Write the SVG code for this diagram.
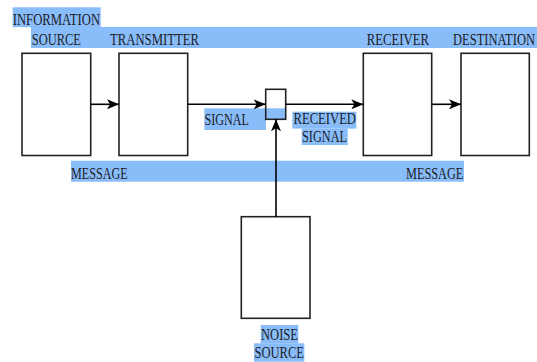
<svg xmlns="http://www.w3.org/2000/svg" width="537" height="362" viewBox="0 0 537 362">
<style>
.hl{fill:#89bdfa}
.box{fill:none;stroke:#222;stroke-width:1.6}
.t{font-family:"Liberation Serif","Times New Roman",serif;font-size:17.5px;fill:#1c1c28}
.c{stroke:#000;stroke-width:1.6;fill:none;marker-end:url(#ah)}
</style>
<defs>
<marker id="ah" viewBox="0 0 12 10" refX="12" refY="5" markerWidth="12" markerHeight="10" markerUnits="userSpaceOnUse" orient="auto">
<path d="M0,0 L12,5 L0,10 L3,5 Z" fill="#000"/>
</marker>
</defs>
<rect width="537" height="362" fill="#fff"/>
<g id="highlights">
<rect class="hl" x="12.7" y="7.3" width="88" height="19.9"/>
<rect class="hl" x="31" y="27" width="506" height="21"/>
<rect class="hl" x="204.3" y="108.3" width="61.7" height="21.7"/>
<rect class="hl" x="266" y="108.3" width="19.7" height="10.9"/>
<rect class="hl" x="292.3" y="111.7" width="64" height="16.9"/>
<rect class="hl" x="301.7" y="128.5" width="46" height="16.5"/>
<rect class="hl" x="71" y="160.7" width="393" height="21"/>
<rect class="hl" x="260.7" y="325" width="37.6" height="18.5"/>
<rect class="hl" x="254" y="343.3" width="50.3" height="18.4"/>
</g>
<g id="info-source">
<rect class="box" x="22" y="53.3" width="68.7" height="102.2"/>
<text class="t" x="12.7" y="25" textLength="87.5" lengthAdjust="spacingAndGlyphs">INFORMATION</text>
<text class="t" x="31.7" y="45" textLength="49.3" lengthAdjust="spacingAndGlyphs">SOURCE</text>
</g>
<g id="transmitter">
<rect class="box" x="119" y="53.3" width="68.7" height="102.2"/>
<text class="t" x="110" y="45" textLength="89" lengthAdjust="spacingAndGlyphs">TRANSMITTER</text>
</g>
<g id="mixer">
<rect class="box" x="265.7" y="89.3" width="20" height="30"/>
</g>
<g id="receiver">
<rect class="box" x="363.3" y="53.3" width="68.4" height="102.2"/>
<text class="t" x="366.7" y="45" textLength="62.3" lengthAdjust="spacingAndGlyphs">RECEIVER</text>
</g>
<g id="destination">
<rect class="box" x="461" y="53.3" width="68.3" height="102.2"/>
<text class="t" x="453" y="45" textLength="82" lengthAdjust="spacingAndGlyphs">DESTINATION</text>
</g>
<g id="noise-source">
<rect class="box" x="241.3" y="216.7" width="68.7" height="101.6"/>
<text class="t" x="261" y="340" textLength="37" lengthAdjust="spacingAndGlyphs">NOISE</text>
<text class="t" x="254.5" y="358" textLength="49.5" lengthAdjust="spacingAndGlyphs">SOURCE</text>
</g>
<g id="labels">
<text class="t" x="204.5" y="125" textLength="44.5" lengthAdjust="spacingAndGlyphs">SIGNAL</text>
<text class="t" x="293.5" y="123.5" textLength="62.5" lengthAdjust="spacingAndGlyphs">RECEIVED</text>
<text class="t" x="302" y="141.5" textLength="45" lengthAdjust="spacingAndGlyphs">SIGNAL</text>
<text class="t" x="71" y="179" textLength="56.7" lengthAdjust="spacingAndGlyphs">MESSAGE</text>
<text class="t" x="406" y="179" textLength="57.3" lengthAdjust="spacingAndGlyphs">MESSAGE</text>
</g>
<g id="connectors">
<line class="c" x1="90.7" y1="104.3" x2="119" y2="104.3"/>
<line class="c" x1="187.7" y1="104.3" x2="265.7" y2="104.3"/>
<line class="c" x1="285.7" y1="104.3" x2="363.3" y2="104.3"/>
<line class="c" x1="431.7" y1="104.3" x2="461" y2="104.3"/>
<line class="c" x1="276" y1="216.7" x2="276" y2="119.3"/>
</g>
</svg>
